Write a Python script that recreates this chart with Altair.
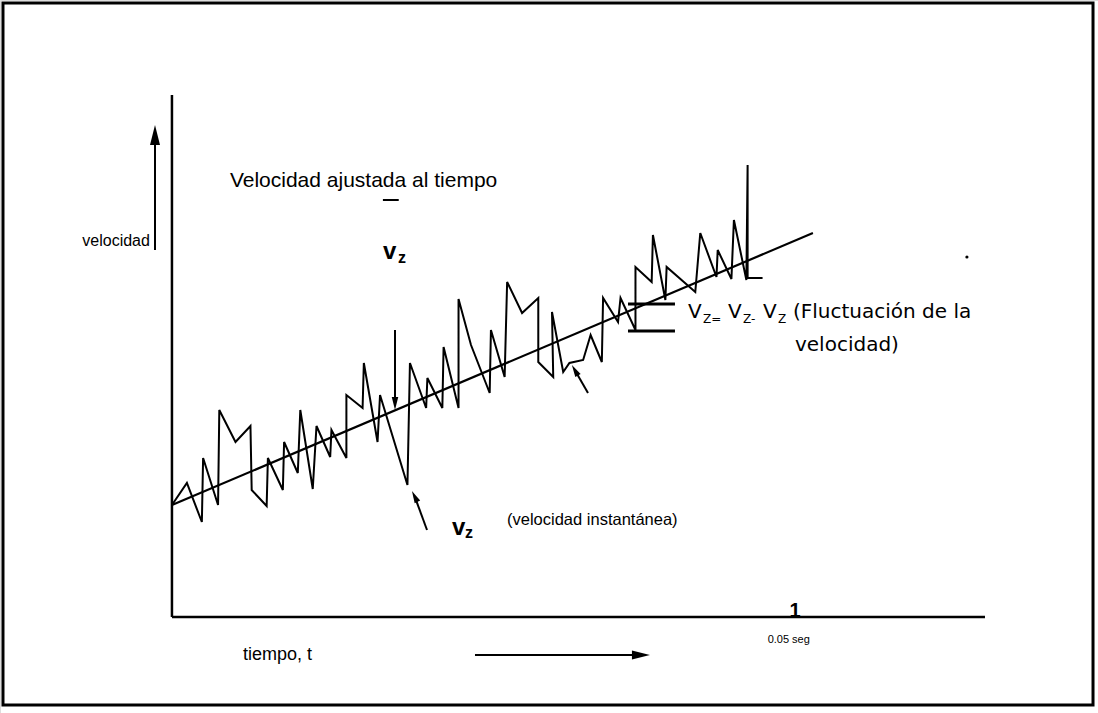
import altair as alt
import pandas as pd

# ---- data (time in ms, velocity in arbitrary units) ----
time_ms = [0.0, 1.2, 2.4, 2.5, 3.7, 3.8, 5.1, 6.3, 6.4, 7.6, 7.7, 8.9, 9.0, 10.1, 10.3, 11.3, 11.6,
           12.7, 12.8, 14.0, 14.0, 15.3, 15.4, 16.5, 16.7, 18.9, 19.1, 20.4, 20.5, 21.7, 21.8, 23.0,
           23.0, 24.0, 25.5, 25.6, 26.7, 26.9, 28.1, 29.4, 29.4, 30.6, 30.5, 31.4, 31.9, 33.0, 33.6,
           34.5, 34.6, 35.8, 36.0, 37.2, 37.2, 38.5, 38.6, 39.6, 39.7, 42.0, 42.4, 43.7, 43.8, 44.9,
           45.1, 46.1, 46.2, 46.2, 47.4]
velocity = [11.2, 13.4, 9.5, 15.9, 11.2, 20.7, 17.5, 19.1, 12.7, 11.1, 15.9, 12.7, 17.5, 14.4, 20.7,
            12.8, 19.1, 16.0, 18.7, 15.9, 22.2, 20.9, 25.4, 17.5, 22.2, 13.2, 25.4, 20.9, 23.9, 20.9,
            27.0, 20.9, 31.8, 27.2, 22.4, 28.7, 24.0, 33.5, 30.4, 31.9, 25.5, 24.0, 30.5, 24.5, 25.4,
            25.7, 28.2, 25.5, 31.9, 29.5, 31.9, 28.7, 35.0, 33.5, 38.2, 31.7, 35.0, 32.5, 38.4, 34.0,
            36.7, 33.8, 39.7, 33.7, 45.2, 33.9, 33.9]
trend_t = [0.0, 51.44]
trend_v = [11.2, 38.4]

tick_t = 50.0
tick_label = "0.05 seg"

# ---- scales ----
XS = alt.Scale(domain=[-13.80, 74.32], nice=False, zero=False)
YS = alt.Scale(domain=[-9.6, 61.7], nice=False, zero=False)


def X(f="t"):
    return alt.X(f"{f}:Q", scale=XS, axis=None)


def Y(f="v"):
    return alt.Y(f"{f}:Q", scale=YS, axis=None)


def rules(segs, width=2.0):
    df = pd.DataFrame(segs, columns=["t", "v", "t2", "v2"])
    return alt.Chart(df).mark_rule(color="black", strokeWidth=width).encode(
        x=X(), y=Y(), x2="t2:Q", y2="v2:Q")


def text(items, font="Liberation Sans", size=17, weight="normal", align="left", baseline="middle"):
    df = pd.DataFrame(items, columns=["t", "v", "label"])
    return alt.Chart(df).mark_text(font=font, fontSize=size, fontWeight=weight, align=align,
                                   baseline=baseline, color="black").encode(
        x=X(), y=Y(), text="label:N")


ARROW = "M-1,-0.5 L1,0 L-1,0.5 Z"


def heads(items):
    df = pd.DataFrame(items, columns=["t", "v", "angle", "size"])
    return alt.Chart(df).mark_point(shape=ARROW, filled=True, color="black", opacity=1).encode(
        x=X(), y=Y(), angle=alt.Angle("angle:Q", scale=None), size=alt.Size("size:Q", scale=None))


# frame
frame = alt.Chart(pd.DataFrame({"t": [-13.56], "v": [61.4], "t2": [73.92], "v2": [-8.8]})).mark_rect(
    fillOpacity=0, stroke="black", strokeWidth=3).encode(x=X(), y=Y(), x2="t2:Q", y2="v2:Q")

# axes
axes = rules([[0, 0, 0, 52.2], [0, 0, 65.25, 0]], width=2.5)

# signal and trend
sig = pd.DataFrame({"t": time_ms, "v": velocity, "i": list(range(len(time_ms)))})
signal = alt.Chart(sig).mark_line(color="black", strokeWidth=2).encode(
    x=X(), y=Y(), order="i:Q")
trend = alt.Chart(pd.DataFrame({"t": trend_t, "v": trend_v})).mark_line(
    color="black", strokeWidth=2.2).encode(x=X(), y=Y())

# bracket for fluctuation
bracket = rules([[36.60, 31.3, 40.37, 31.3], [36.60, 28.6, 40.37, 28.6]], width=3)

# arrow shafts
shafts = rules([
    [-1.36, 36.7, -1.36, 47.5],      # velocidad arrow
    [24.32, -3.8, 37.6, -3.8],        # tiempo arrow
    [17.9, 28.7, 17.9, 21.6],         # down arrow to mean
    [20.47, 8.7, 19.48, 12.06],       # arrow to instantaneous
    [33.39, 22.4, 32.34, 24.68],      # arrow near dip
], width=2)

arrowheads = heads([
    [-1.36, 48.2, 270, 400],
    [37.64, -3.8, 0, 324],
    [17.9, 21.35, 90, 169],
    [19.48, 12.06, 243.4, 150],
    [32.34, 24.68, 240.3, 150],
])

# overbar of mean velocity
overbar = rules([[16.93, 41.7, 18.2, 41.7]], width=2)

# tick mark "1" on time axis
tick = text([[tick_t, 0.0, "1"]], size=20, weight="bold", align="center", baseline="alphabetic")
tick_lbl = text([[49.5, -2.6, tick_label]], size=11, align="center", baseline="alphabetic")

labels_v = text([[-1.77, 37.6, "velocidad"]], size=16, align="right")
labels = text([
    [5.7, -3.8, "tiempo, t"],
], size=18)
inst = text([[26.89, 9.7, "(velocidad instantánea)"]], size=16.5)
title = text([[4.65, 43.6, "Velocidad ajustada al tiempo"]], size=21)

vbig = text([[16.93, 36.5, "v"], [22.47, 8.9, "v"]], size=24, weight="bold")
vsub = text([[18.14, 35.9, "z"], [23.52, 8.4, "z"]], size=16, weight="bold")

FL = "DejaVu Sans"
fl_big = text([[41.41, 30.5, "V"], [44.62, 30.5, "V"], [47.43, 30.5, "V"]], font=FL, size=20)
fl_sub = text([[42.62, 29.8, "Z="], [45.83, 29.8, "Z-"], [48.64, 29.8, "Z"]], font=FL, size=12)
fl_txt = text([[49.84, 30.5, "(Fluctuación de la"], [50.0, 27.2, "velocidad)"]], font=FL, size=20)

dot = alt.Chart(pd.DataFrame({"t": [63.8], "v": [36.0]})).mark_point(
    filled=True, color="black", size=10, opacity=1).encode(x=X(), y=Y())

chart = alt.layer(
    frame, axes, trend, signal, bracket, shafts, arrowheads, overbar, tick, tick_lbl,
    labels, labels_v, inst, title, vbig, vsub, fl_big, fl_sub, fl_txt, dot
).properties(
    width=1098, height=713, padding=0, autosize=alt.AutoSizeParams(type="none")
).configure_view(stroke=None).configure(background="white")

chart.save("out.html", embed_options={"renderer": "svg", "actions": False})
